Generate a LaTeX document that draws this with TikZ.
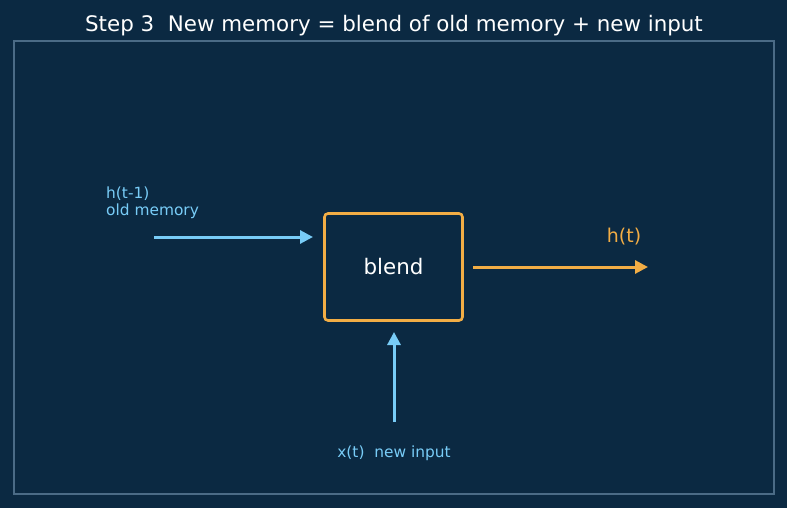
\documentclass[tikz,border=0pt]{standalone}
\usepackage{fontspec}
\setmainfont{DejaVu Sans}
\usetikzlibrary{arrows.meta}
\definecolor{bg}{HTML}{0B2942}
\definecolor{frame}{HTML}{4B6B86}
\definecolor{orng}{HTML}{F2AD45}
\definecolor{lblue}{HTML}{78CCF7}
\tikzset{
  conn/.style={line width=3pt,-{Triangle[length=13pt,width=13pt]}},
  lbl/.style={text=lblue,font=\fontsize{15.4}{18}\selectfont,inner sep=0pt},
}
\begin{document}
\begin{tikzpicture}[x=1pt,y=-1pt]
\fill[bg] (0,0) rectangle (787,508);
\useasboundingbox (0,0) rectangle (787,508);
\draw[frame,line width=1.5pt] (14,41) rectangle (774,494);
\node[text=white,font=\fontsize{21.4}{25}\selectfont] (title) at (394,25.5) {Step 3\ \ New memory = blend of old memory + new input};
\node[draw=orng,line width=2.6pt,rounded corners=3.5pt,minimum width=138pt,minimum height=107pt,text=white,font=\fontsize{21.4}{25}\selectfont] (blend) at (393.5,267) {blend};
\coordinate (oldstart) at (154,237);
\coordinate (oldend) at (313,237);
\coordinate (outstart) at (473,267);
\coordinate (outend) at (648,267);
\coordinate (instart) at (394,422);
\coordinate (inend) at (394,332);
\draw[conn,lblue] (oldstart) -- (oldend);
\draw[conn,orng] (outstart) -- (outend);
\draw[conn,lblue] (instart) -- (inend);
\node[lbl,anchor=west] (hprev) at (106,194) {h(t-1)};
\node[lbl,anchor=west] (oldmem) at (106,211) {old memory};
\node[text=orng,font=\fontsize{19}{22}\selectfont,inner sep=0pt] (ht) at (624,237) {h(t)};
\node[lbl] (xin) at (394,453) {x(t)\ \ new input};
\end{tikzpicture}
\end{document}
